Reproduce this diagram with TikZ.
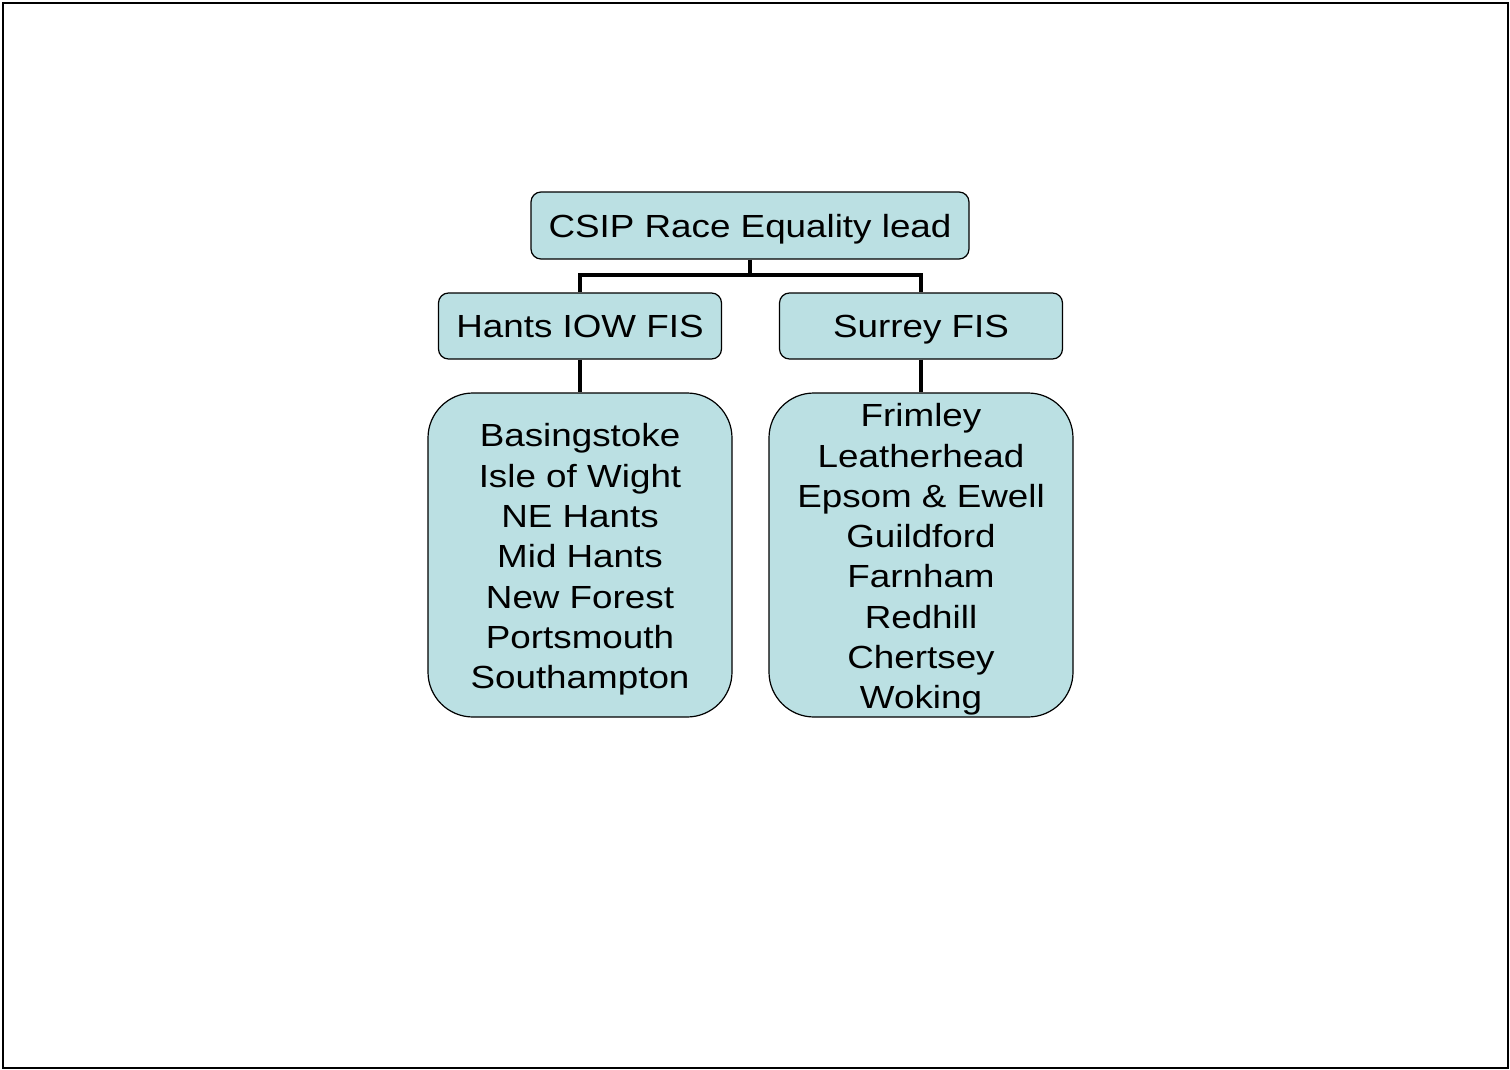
\documentclass[tikz,border=0pt]{standalone}
\usepackage{fontspec}
\setmainfont[FakeStretch=1.15]{Liberation Sans}
\definecolor{boxfill}{RGB}{187,224,227}
\begin{document}
\begin{tikzpicture}[x=1pt,y=-1pt,
  box/.style={draw=black, line width=1.2pt, fill=boxfill, rounded corners=10pt, inner sep=0pt, align=center,
    font=\fontsize{32}{40.3}\selectfont, text height=23pt, text depth=0pt},
  listbox/.style={draw=black, line width=1.2pt, fill=boxfill, rounded corners=45pt, inner sep=0pt,
    minimum width=304pt, minimum height=324pt},
  listtext/.style={inner sep=0pt, align=center, font=\fontsize{32}{40.3}\selectfont},
  conn/.style={line width=3.8pt, draw=black}]
\useasboundingbox (0,0) rectangle (1510,1070);
\draw[line width=2pt] (3,3) rectangle (1508,1068);
\node[box, minimum width=438pt, minimum height=67pt] (top) at (750,225.5) {CSIP Race Equality lead};
\node[box, minimum width=283pt, minimum height=66pt] (hants) at (580,326) {Hants IOW FIS};
\node[box, minimum width=283pt, minimum height=66pt] (surrey) at (921,326) {Surrey FIS};
\node[listbox] (hl) at (580,555) {};
\node[listtext] (hltext) at ([yshift=-4.5pt]hl.center) {Basingstoke\\Isle of Wight\\NE Hants\\Mid Hants\\New Forest\\Portsmouth\\Southampton};
\node[listbox] (sl) at (921,555) {};
\node[listtext] (sltext) at ([yshift=-4.5pt]sl.center) {Frimley\\Leatherhead\\Epsom \& Ewell\\Guildford\\Farnham\\Redhill\\Chertsey\\Woking};
\coordinate (mid) at (750,275);
\draw[conn] (top.south) -- (mid);
\draw[conn] (hants.north) |- (mid) -| (surrey.north);
\draw[conn] (hants.south) -- (hl.north);
\draw[conn] (surrey.south) -- (sl.north);
\end{tikzpicture}
\end{document}
